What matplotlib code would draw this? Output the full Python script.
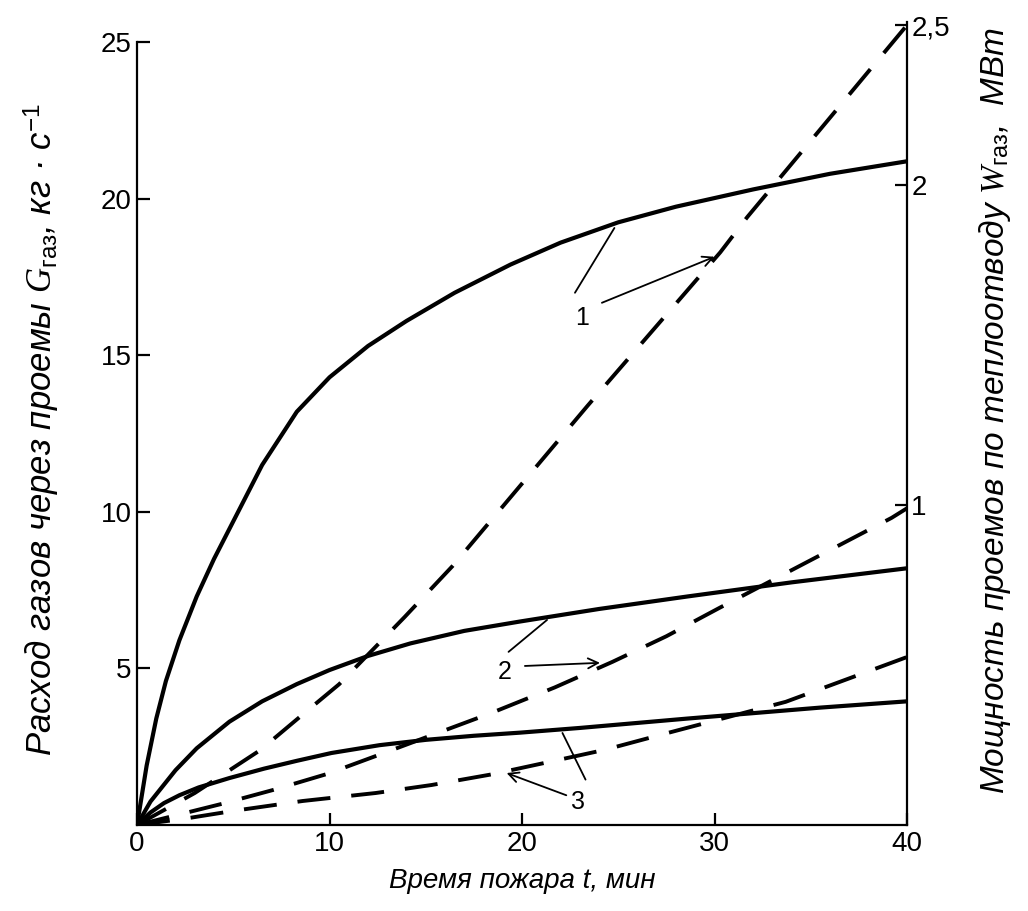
import matplotlib as mpl
import matplotlib.pyplot as plt

mpl.rcParams['font.family'] = ['Liberation Sans', 'DejaVu Sans']
mpl.rcParams['mathtext.fontset'] = 'custom'
mpl.rcParams['mathtext.rm'] = 'Liberation Sans'
mpl.rcParams['mathtext.it'] = 'Liberation Serif:italic'

# mass flow of gases through the openings, kg/s (left axis)
t_g1 = [0, 0.5, 1.0, 1.5, 2.2, 3.1, 4.0, 5.0, 6.5, 8.3, 10, 12, 14, 16.5, 19.4, 22, 25, 28, 32, 36, 40]
g1 = [0, 1.9, 3.4, 4.6, 5.9, 7.3, 8.5, 9.7, 11.5, 13.2, 14.3, 15.3, 16.1, 17.0, 17.9, 18.6, 19.25, 19.75, 20.3, 20.8, 21.2]
t_g2 = [0, 0.7, 2.0, 3.1, 4.8, 6.5, 8.3, 10, 12, 14.2, 17, 19.9, 24, 28.6, 34, 40]
g2 = [0, 0.75, 1.75, 2.45, 3.3, 3.95, 4.5, 4.95, 5.4, 5.8, 6.2, 6.5, 6.9, 7.3, 7.75, 8.2]
t_g3 = [0, 0.7, 1.4, 2.2, 3.2, 4.8, 6.6, 8.3, 10.1, 12.6, 15.0, 17.5, 19.9, 23.0, 28.6, 35.5, 40]
g3 = [0, 0.4, 0.7, 0.95, 1.2, 1.5, 1.8, 2.05, 2.3, 2.55, 2.72, 2.85, 2.95, 3.1, 3.4, 3.75, 3.95]

# heat removal power of the openings, MW (right axis)
t_w1 = [0, 3.0, 6.4, 8.5, 10.5, 13.9, 16.4, 23.4, 30.3, 31.7, 40]
w1 = [0, 0.1, 0.234, 0.34, 0.44, 0.65, 0.81, 1.31, 1.79, 1.9, 2.5]
t_w2 = [0, 4.4, 7.1, 9.9, 12.6, 18.4, 21.7, 24.7, 27.5, 30.3, 39.2, 40]
w2 = [0, 0.066, 0.11, 0.16, 0.22, 0.35, 0.43, 0.51, 0.59, 0.68, 0.96, 0.99]
t_w3 = [0, 2.5, 5.1, 8.6, 12.4, 15.3, 18.4, 21.4, 24.3, 27.4, 33.7, 40]
w3 = [0, 0.02, 0.045, 0.075, 0.1, 0.125, 0.158, 0.197, 0.235, 0.285, 0.385, 0.525]

x_ticks = [0, 10, 20, 30, 40]
g_ticks = [5, 10, 15, 20, 25]
w_ticks = [1, 2, 2.5]
w_tick_labels = ['1', '2', '2,5']

# curve labels: text position, leader to solid curve, arrow to dashed curve
labels = ['1', '2', '3']
label_pos = [(23.1, 16.2), (19.1, 4.9), (22.9, 0.75)]
leader_from = [(22.75, 17.0), (19.3, 5.53), (23.3, 1.45)]
leader_to = [(24.8, 19.07), (21.3, 6.55), (22.1, 2.94)]
arrow_from = [(24.15, 16.68), (20.15, 5.08), (22.3, 0.95)]
arrow_to = [(30.0, 18.15), (24.05, 5.18), (19.2, 1.66)]

fig = plt.figure(figsize=(10.28, 9.11), dpi=100)
ax = fig.add_axes([0.1333, 0.0944, 0.749, 0.8815])
ax2 = ax.twinx()

solid = dict(color='black', lw=3.0, solid_capstyle='round', solid_joinstyle='round')
dashed = dict(color='black', lw=2.8, linestyle=(0, (8.5, 5.4)), dash_capstyle='butt')

ax.plot(t_g1, g1, **solid)
ax.plot(t_g2, g2, **solid)
ax.plot(t_g3, g3, **solid)
ax2.plot(t_w1, w1, **dashed)
ax2.plot(t_w2, w2, **dashed)
ax2.plot(t_w3, w3, **dashed)

ax.set_xlim(0, 40)
ax.set_ylim(0, 25.65)
ax2.set_ylim(0, 2.51)

for a in (ax, ax2):
    a.spines['top'].set_visible(False)
    for s in a.spines.values():
        s.set_linewidth(1.6)
ax.spines['right'].set_visible(False)
ax2.spines['left'].set_visible(False)
ax2.spines['bottom'].set_visible(False)
ax.spines['left'].set_bounds(0, 25)

ax.set_xticks(x_ticks)
ax.set_yticks(g_ticks)
ax2.set_yticks(w_ticks)
ax2.set_yticklabels(w_tick_labels)
ax.tick_params(axis='both', direction='in', length=9, width=1.6, labelsize=20, pad=4)
ax2.tick_params(axis='y', direction='in', length=9, width=1.6, labelsize=20, pad=3)

ax.set_xlabel('Время пожара t, мин', fontsize=20, style='italic', labelpad=8)
fig.text(0.041, 0.528, r'Расход газов через проемы $G_{\mathrm{газ}}$, кг · с$^{-1}$',
         fontsize=25, style='italic', rotation=90, ha='center', va='center')
fig.text(0.968, 0.55, r'Мощность проемов по теплоотводу $W_{\mathrm{газ}}$,  МВт',
         fontsize=24, style='italic', rotation=90, ha='center', va='center')

for lab, pos, lf, lt, af, at in zip(labels, label_pos, leader_from, leader_to, arrow_from, arrow_to):
    ax.text(pos[0], pos[1], lab, fontsize=18, ha='center', va='center')
    ax.annotate('', xy=lt, xytext=lf,
                arrowprops=dict(arrowstyle='-', color='black', lw=1.3, shrinkA=0, shrinkB=0))
    ax.annotate('', xy=at, xytext=af,
                arrowprops=dict(arrowstyle='->', color='black', lw=1.3, shrinkA=0, shrinkB=0,
                                mutation_scale=18))

fig.savefig('out.png', dpi=100)
